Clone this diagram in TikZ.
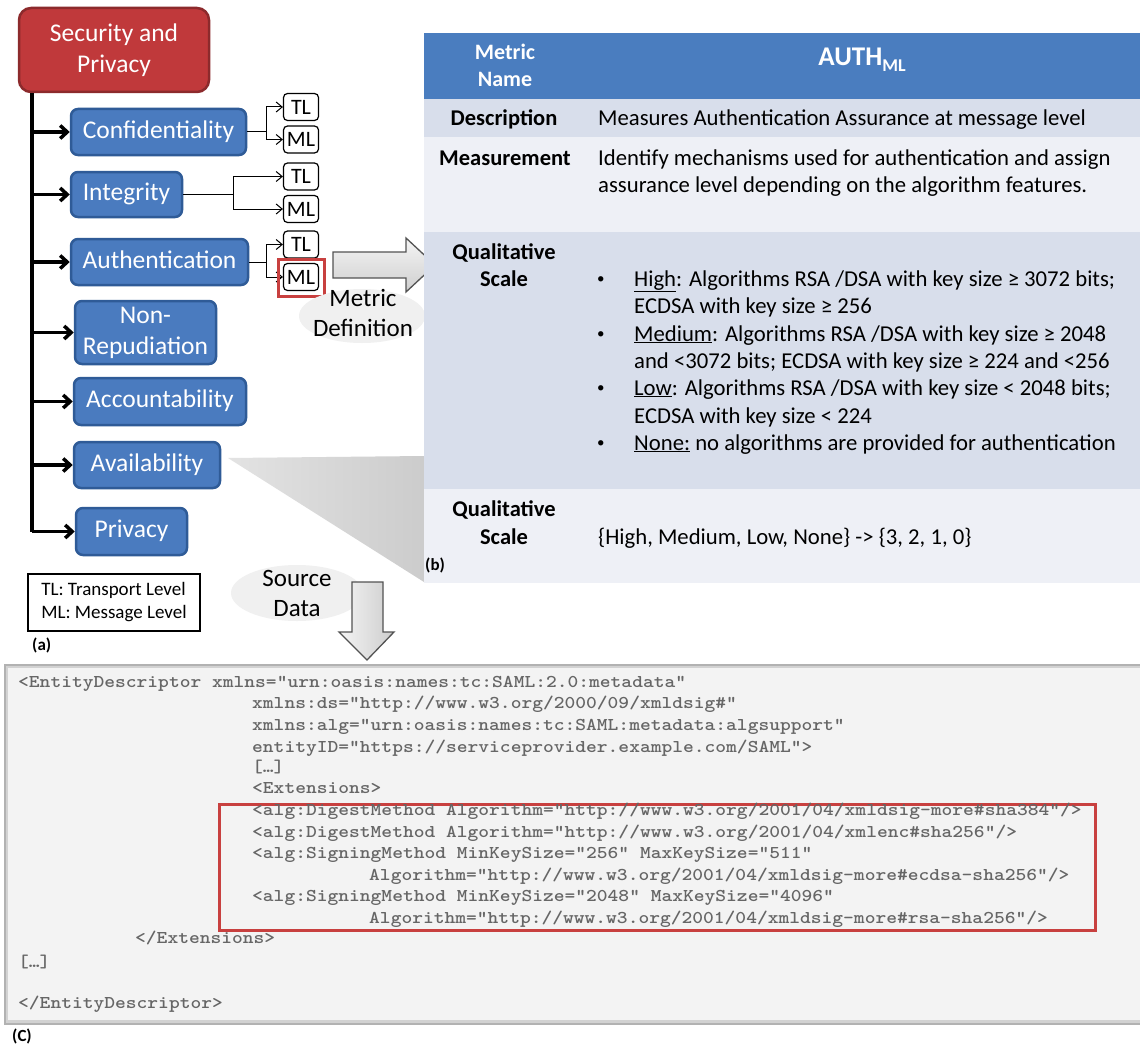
\documentclass[tikz,border=0pt]{standalone}
\usepackage{fontspec}
\setmainfont{Carlito}
\newfontfamily\codefont[FakeStretch=1.14]{lmmonolt10-bold.otf}
\usetikzlibrary{arrows.meta}
\newcommand\fsz[2]{\fontsize{#1}{#2}\selectfont}

\definecolor{rootfill}{HTML}{C0393B}
\definecolor{rootline}{HTML}{8C2A2C}
\definecolor{boxfill}{HTML}{4A7BBF}
\definecolor{boxline}{HTML}{2F5B97}
\definecolor{headfill}{HTML}{4A7DBF}
\definecolor{rowdark}{HTML}{D8DEEB}
\definecolor{rowlight}{HTML}{EEF0F6}
\definecolor{hlred}{HTML}{C8403F}
\definecolor{codebg}{HTML}{F3F3F3}
\definecolor{codetext}{HTML}{666666}
\definecolor{bubble}{HTML}{F0F0F0}

\tikzset{
  rootbox/.style={draw=rootline, fill=rootfill, line width=2.5pt, rounded corners=12pt,
    text=white, font=\fsz{25.5}{31}, align=center, inner sep=0pt},
  cat/.style={draw=boxline, fill=boxfill, line width=2.5pt, rounded corners=7pt,
    text=white, font=\fsz{25.5}{31}, align=center, inner sep=0pt},
  oneline/.style={text height=17.5pt, text depth=5pt},
  lvl/.style={draw=black, line width=1.2pt, rounded corners=4pt, fill=white,
    minimum width=35pt, minimum height=27pt, inner sep=0pt, font=\fsz{22}{22},
    text height=14.2pt, text depth=0pt},
  trunkline/.style={line width=3.5pt, line join=miter},
  trunkarrow/.style={line width=3.5pt, -{Straight Barb[length=7pt,width=13pt]}},
  lvlline/.style={line width=1pt},
  lvlarrow/.style={line width=1pt, -{Straight Barb[length=6pt,width=10pt]}},
  hlbox/.style={draw=hlred, line width=3pt, inner sep=0pt},
  plain/.style={inner sep=0pt, font=\fsz{25}{30}, align=center},
  hdr/.style={inner sep=0pt, text=white, font=\bfseries\fsz{22}{27}, align=center},
  celllabel/.style={inner sep=0pt, font=\bfseries\fsz{22.5}{27}, anchor=base},
  celltext/.style={inner sep=0pt, font=\fsz{22.7}{27}, anchor=base west},
  dot/.style={inner sep=0pt, font=\fsz{15}{15}, anchor=base west},
  tag/.style={inner sep=0pt, font=\bfseries\fsz{17}{20}, anchor=west},
  code/.style={inner sep=0pt, font=\codefont\fsz{18}{21.6}, text=codetext, anchor=base west},
  blockarrow/.style={draw=gray!65!black, line width=1.3pt, line join=miter},
}

\begin{document}
\begin{tikzpicture}[x=1pt, y=-1pt]
\useasboundingbox (0,0) rectangle (1140,1046);
\fill[white] (0,0) rectangle (1140,1046);

% soft shadow fanning out from Availability to the table
\shade[left color=gray!22, right color=gray!40] (228,458) -- (424,456) -- (424,582) -- cycle;

% ---------------- (a) category tree ----------------
\node[rootbox, minimum width=190pt, minimum height=84pt] (root) at (114,50) {Security and\\Privacy};

\node[cat, oneline, minimum width=175pt, minimum height=46pt] (conf)    at (158.5,132)   {Confidentiality};
\node[cat, oneline, minimum width=111pt, minimum height=45pt] (integ)   at (126.5,194.5) {Integrity};
\node[cat, oneline, minimum width=177pt, minimum height=46pt] (auth)    at (159.5,262)   {Authentication};
\node[cat,          minimum width=141pt, minimum height=63pt] (nonrep)  at (145.5,332.5) {Non-\\Repudiation};
\node[cat, oneline, minimum width=172pt, minimum height=47pt] (account) at (160,401.5)   {Accountability};
\node[cat, oneline, minimum width=146pt, minimum height=46pt] (avail)   at (147,465)     {Availability};
\node[cat, oneline, minimum width=111pt, minimum height=47pt] (priv)    at (131.5,531.5) {Privacy};

\coordinate (trunktop) at ([xshift=14pt]root.south west);
\draw[trunkline] (trunktop) -- (trunktop |- priv.west);
\foreach \n in {conf,integ,auth,nonrep,account,avail}
  \draw[trunkarrow] (trunktop |- \n.west) -- (\n.west);
\draw[trunkarrow] (trunktop |- priv.west) -- (priv.west);

% transport / message level leaves
\node[lvl] (tlC) at (301,107)   {TL};
\node[lvl] (mlC) at (301,139.5) {ML};
\node[lvl] (tlI) at (301,176.5) {TL};
\node[lvl] (mlI) at (301,209)   {ML};
\node[lvl] (tlA) at (301,244.5) {TL};
\node[lvl] (mlA) at (301,277)   {ML};

\path (conf.east)  ++(19,0) coordinate (jC);
\path (integ.east) ++(50,0) coordinate (jI);
\path (auth.east)  ++(17,0) coordinate (jA);
\draw[lvlline] (conf.east) -- (jC);
\draw[lvlline] (integ.east) -- (jI);
\draw[lvlline] (auth.east) -- (jA);
\foreach \j/\t/\m in {jC/tlC/mlC, jI/tlI/mlI, jA/tlA/mlA} {
  \draw[lvlarrow] (\j) |- (\t.west);
  \draw[lvlarrow] (\j) |- (\m.west);
}
\node[hlbox, minimum width=46pt, minimum height=37pt] (mlAhl) at (301,277.5) {};

% legend
\node[draw=black, line width=1.3pt, minimum width=172pt, minimum height=57pt,
      inner sep=0pt, align=left, font=\fsz{19}{23}] (legend) at (114,602.5)
      {TL: Transport Level\\ML: Message Level};
\node[tag] (taga) at (32,645) {(a)};

% ---------------- metric definition arrow ----------------
\fill[bubble] (362,316) ellipse [x radius=63, y radius=27];
\shadedraw[blockarrow, top color=gray!8, bottom color=gray!38]
  (333,252) -- (406,252) -- (406,238) -- (435,265) -- (406,292) -- (406,278) -- (333,278) -- cycle;
\node[plain] (metricdef) at (363,313) {Metric\\Definition};

% ---------------- (b) metric table ----------------
\fill[headfill] (424,33) rectangle (1140,99);
\fill[rowdark]  (424,99) rectangle (1140,137);
\fill[rowlight] (424,137) rectangle (1140,232);
\fill[rowdark]  (424,232) rectangle (1140,489);
\fill[rowlight] (424,489) rectangle (1140,583);

\node[hdr] (mname) at (505,65) {Metric\\Name};
\node[hdr, font=\bfseries\fsz{27}{27}, anchor=base] (authml) at (862,66)
  {AUTH\raisebox{-6pt}{\fsz{18}{18}ML}};

\node[celllabel] (ldesc)  at (504,126) {Description};
\node[celllabel] (lmeas)  at (505,165) {Measurement};
\node[celllabel] (lqual)  at (504,259) {Qualitative};
\node[celllabel] (lscale) at (504,286) {Scale};
\node[celllabel] (lqual2)  at (504,516) {Qualitative};
\node[celllabel] (lscale2) at (504,544) {Scale};

\node[celltext] (tdesc)  at (598,126) {Measures Authentication Assurance at message level};
\node[celltext] (tmeas1) at (598,165) {Identify mechanisms used for authentication and assign};
\node[celltext] (tmeas2) at (598,192) {assurance level depending on the algorithm features.};

\foreach \y in {283,338,392,447}
  \node[dot] at (597,\y) {•};
\node[celltext] (s1) at (634,286) {\underline{High}: Algorithms RSA /DSA with key size ≥ 3072 bits;};
\node[celltext] (s2) at (634,313) {ECDSA with key size ≥ 256};
\node[celltext] (s3) at (634,341) {\underline{Medium}: Algorithms RSA /DSA with key size ≥ 2048};
\node[celltext] (s4) at (634,368) {and <3072 bits; ECDSA with key size ≥ 224 and <256};
\node[celltext] (s5) at (634,395) {\underline{Low}: Algorithms RSA /DSA with key size < 2048 bits;};
\node[celltext] (s6) at (634,423) {ECDSA with key size < 224};
\node[celltext] (s7) at (634,450) {\underline{None:} no algorithms are provided for authentication};

\node[celltext] (tmap) at (598,544) {\{High, Medium, Low, None\} -> \{3, 2, 1, 0\}};
\node[tag] (tagb) at (425,565) {(b)};

% ---------------- source data arrow ----------------
\fill[bubble] (297,593) ellipse [x radius=66, y radius=28];
\node[plain] (srcdata) at (297,593) {Source\\Data};
\shadedraw[blockarrow, left color=gray!8, right color=gray!40]
  (352,582) -- (383,582) -- (383,632) -- (394,632) -- (367,660) -- (339,632) -- (352,632) -- cycle;

% ---------------- (c) metadata listing ----------------
\fill[gray!60] (4,664) rectangle (1140,1025);
\fill[gray!35] (6,666) rectangle (1140,1023);
\fill[codebg] (8,668) rectangle (1140,1020);
\node[hlbox, minimum width=876pt, minimum height=126pt] (codehl) at (657,867) {};

\node[code] (c1)  at (18,687)  {<EntityDescriptor xmlns="urn:oasis:names:tc:SAML:2.0:metadata"};
\node[code] (c2)  at (252,708) {xmlns:ds="http://www.w3.org/2000/09/xmldsig\#"};
\node[code] (c3)  at (252,730) {xmlns:alg="urn:oasis:names:tc:SAML:metadata:algsupport"};
\node[code] (c4)  at (252,752) {entityID="https://serviceprovider.example.com/SAML">};
\node[code] (c5)  at (252,772) {[…]};
\node[code] (c6)  at (252,793) {<Extensions>};
\node[code] (c7)  at (252,815) {<alg:DigestMethod Algorithm="http://www.w3.org/2001/04/xmldsig-more\#sha384"/>};
\node[code] (c8)  at (252,837) {<alg:DigestMethod Algorithm="http://www.w3.org/2001/04/xmlenc\#sha256"/>};
\node[code] (c9)  at (252,858) {<alg:SigningMethod MinKeySize="256" MaxKeySize="511“};
\node[code] (c10) at (369,880) {Algorithm="http://www.w3.org/2001/04/xmldsig-more\#ecdsa-sha256"/>};
\node[code] (c11) at (252,901) {<alg:SigningMethod MinKeySize="2048" MaxKeySize="4096"};
\node[code] (c12) at (369,923) {Algorithm="http://www.w3.org/2001/04/xmldsig-more\#rsa-sha256"/>};
\node[code] (c13) at (135,943) {</Extensions>};
\node[code] (c14) at (18,967)  {[…]};
\node[code] (c15) at (18,1008) {</EntityDescriptor>};
\node[tag] (tagc) at (12,1036) {(C)};
\end{tikzpicture}
\end{document}
